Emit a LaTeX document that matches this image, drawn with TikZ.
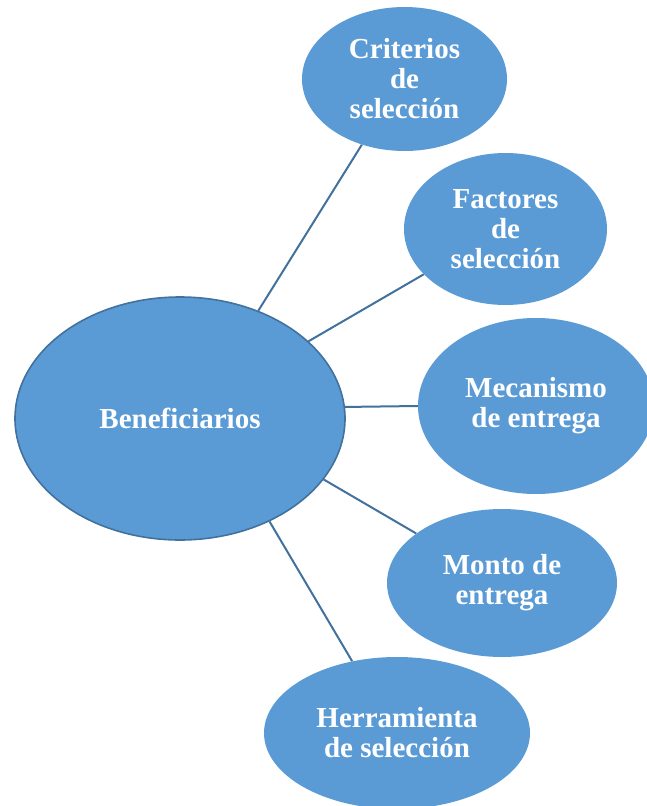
\documentclass[tikz,border=0pt]{standalone}
\usepackage{fontspec}
\setmainfont{Liberation Serif}
\usepackage{xcolor}
\usepackage{tikz}
\usetikzlibrary{shapes,backgrounds,positioning}
\definecolor{bubblefill}{HTML}{5B9BD5}
\definecolor{bubbleline}{HTML}{41719C}

\begin{document}
\begin{tikzpicture}[x=1pt, y=-1pt,
	bubble/.style={ellipse, fill=bubblefill, inner sep=0pt, text=white,
		font=\bfseries\fontsize{29}{30}\selectfont, align=center},
	link/.style={bubbleline, line width=2pt}]

	\useasboundingbox (0,0) rectangle (646,806);

	% centre
	\node[bubble, draw=bubbleline, line width=1.6pt, minimum width=330pt, minimum height=243pt] (benef) at (180,418.5) {Beneficiarios};

	% satellites
	\node[bubble, minimum width=205pt, minimum height=144pt] (crit) at (404.5,79) {Criterios\\de\\selección};
	\node[bubble, minimum width=203pt, minimum height=152pt] (fact) at (505.5,229) {Factores\\de\\selección};
	\node[bubble, minimum width=236pt, minimum height=176pt] (meca) at (536,406) {Mecanismo\\de entrega};
	\node[bubble, minimum width=230pt, minimum height=148pt] (monto) at (502,583) {Monto de\\entrega};
	\node[bubble, minimum width=266pt, minimum height=152pt] (herr) at (397,733) {Herramienta\\de selección};

	\begin{scope}[on background layer]
		\draw[link] (benef.54.6) -- (crit.237.4);
		\draw[link] (benef.31.3) -- (fact.209.9);
		\draw[link] (benef.4.3) -- (meca.west);
		\draw[link] (benef.-23.3) -- (monto.150.2);
		\draw[link] (benef.-49.9) -- (herr.122.1);
	\end{scope}

\end{tikzpicture}
\end{document}
